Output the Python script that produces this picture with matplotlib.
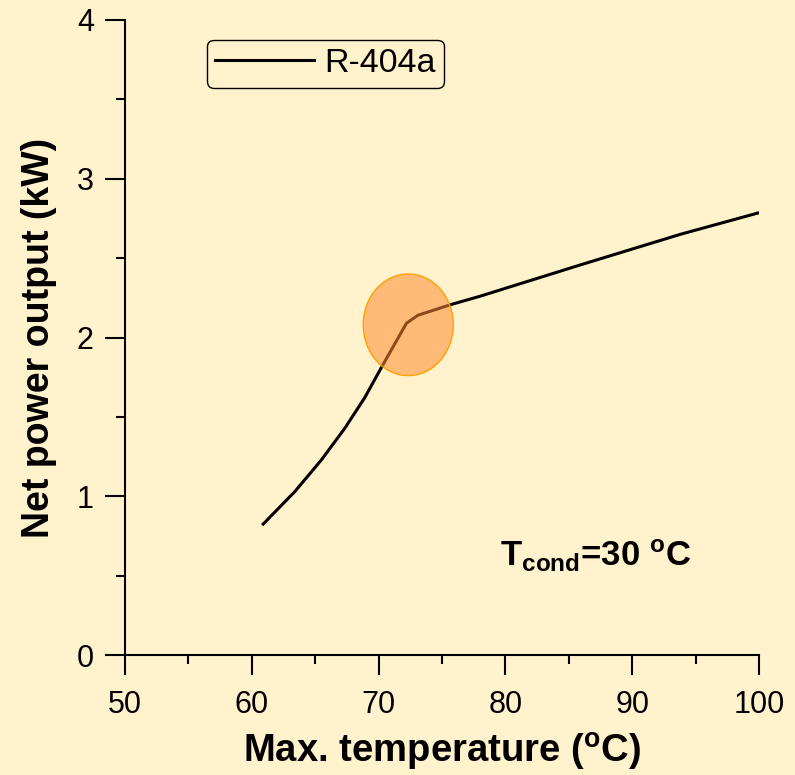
# plot.py
# Net power output vs max. temperature, R-404a

import matplotlib
matplotlib.use('Agg')
import matplotlib.pyplot as plt
from matplotlib.patches import Ellipse

plt.rcParams['font.family'] = ['Liberation Sans', 'DejaVu Sans']
plt.rcParams['mathtext.default'] = 'regular'

# data
t_max = [60.9, 63.4, 65.5, 67.35, 68.9, 70.25, 72.2, 73.1, 75.6, 78.0, 85.9, 93.8, 100.0]
w_net = [0.825, 1.03, 1.23, 1.43, 1.62, 1.815, 2.09, 2.14, 2.205, 2.26, 2.457, 2.65, 2.786]
series_label = 'R-404a'
x_ticks = [50, 60, 70, 80, 90, 100]
y_ticks = [0, 1, 2, 3, 4]

bg = '#FFF2CC'

fig = plt.figure(figsize=(7.95, 7.75), dpi=100, facecolor=bg)
ax = fig.add_axes([0.1572, 0.1548, 0.7975, 0.8194])
ax.set_facecolor(bg)

ax.plot(t_max, w_net, color='black', lw=2.2, label=series_label)

# highlight around the kink
ell = Ellipse((72.34, 2.08), 7.1, 0.64, facecolor=(1.0, 0.55, 0.2, 0.55),
              edgecolor='#FFA000', lw=1.0, zorder=3)
ax.add_patch(ell)

ax.set_xlim(50, 100)
ax.set_ylim(0, 4)
ax.set_xticks(x_ticks)
ax.set_yticks(y_ticks)
ax.set_xticks([55, 65, 75, 85, 95], minor=True)
ax.set_yticks([0.5, 1.5, 2.5, 3.5], minor=True)
ax.tick_params(which='major', direction='out', length=14.4, width=1.5, labelsize=22)
ax.tick_params(which='minor', direction='out', length=6.5, width=1.5)
ax.tick_params(axis='x', which='major', pad=11)
ax.tick_params(axis='y', which='major', pad=8)

for s in ['top', 'right']:
    ax.spines[s].set_visible(False)
for s in ['left', 'bottom']:
    ax.spines[s].set_linewidth(1.5)

ax.set_xlabel('Max. temperature ($^{o}$C)', fontsize=27.5, fontweight='bold', labelpad=8)
ax.set_ylabel('Net power output (kW)', fontsize=27, fontweight='bold', labelpad=14)

ax.text(79.6, 0.556, r'T$_{cond}$=30 $^{o}$C', fontsize=25, fontweight='bold', va='baseline')

leg = ax.legend(loc='upper left', bbox_to_anchor=(0.129, 0.969), borderaxespad=0,
                fontsize=24.5, handlelength=2.9, handletextpad=0.3, borderpad=0.25,
                fancybox=True, facecolor=bg, framealpha=1, edgecolor='black')
leg.get_frame().set_linewidth(1.0)

fig.savefig('out.png', dpi=100, facecolor=bg)
